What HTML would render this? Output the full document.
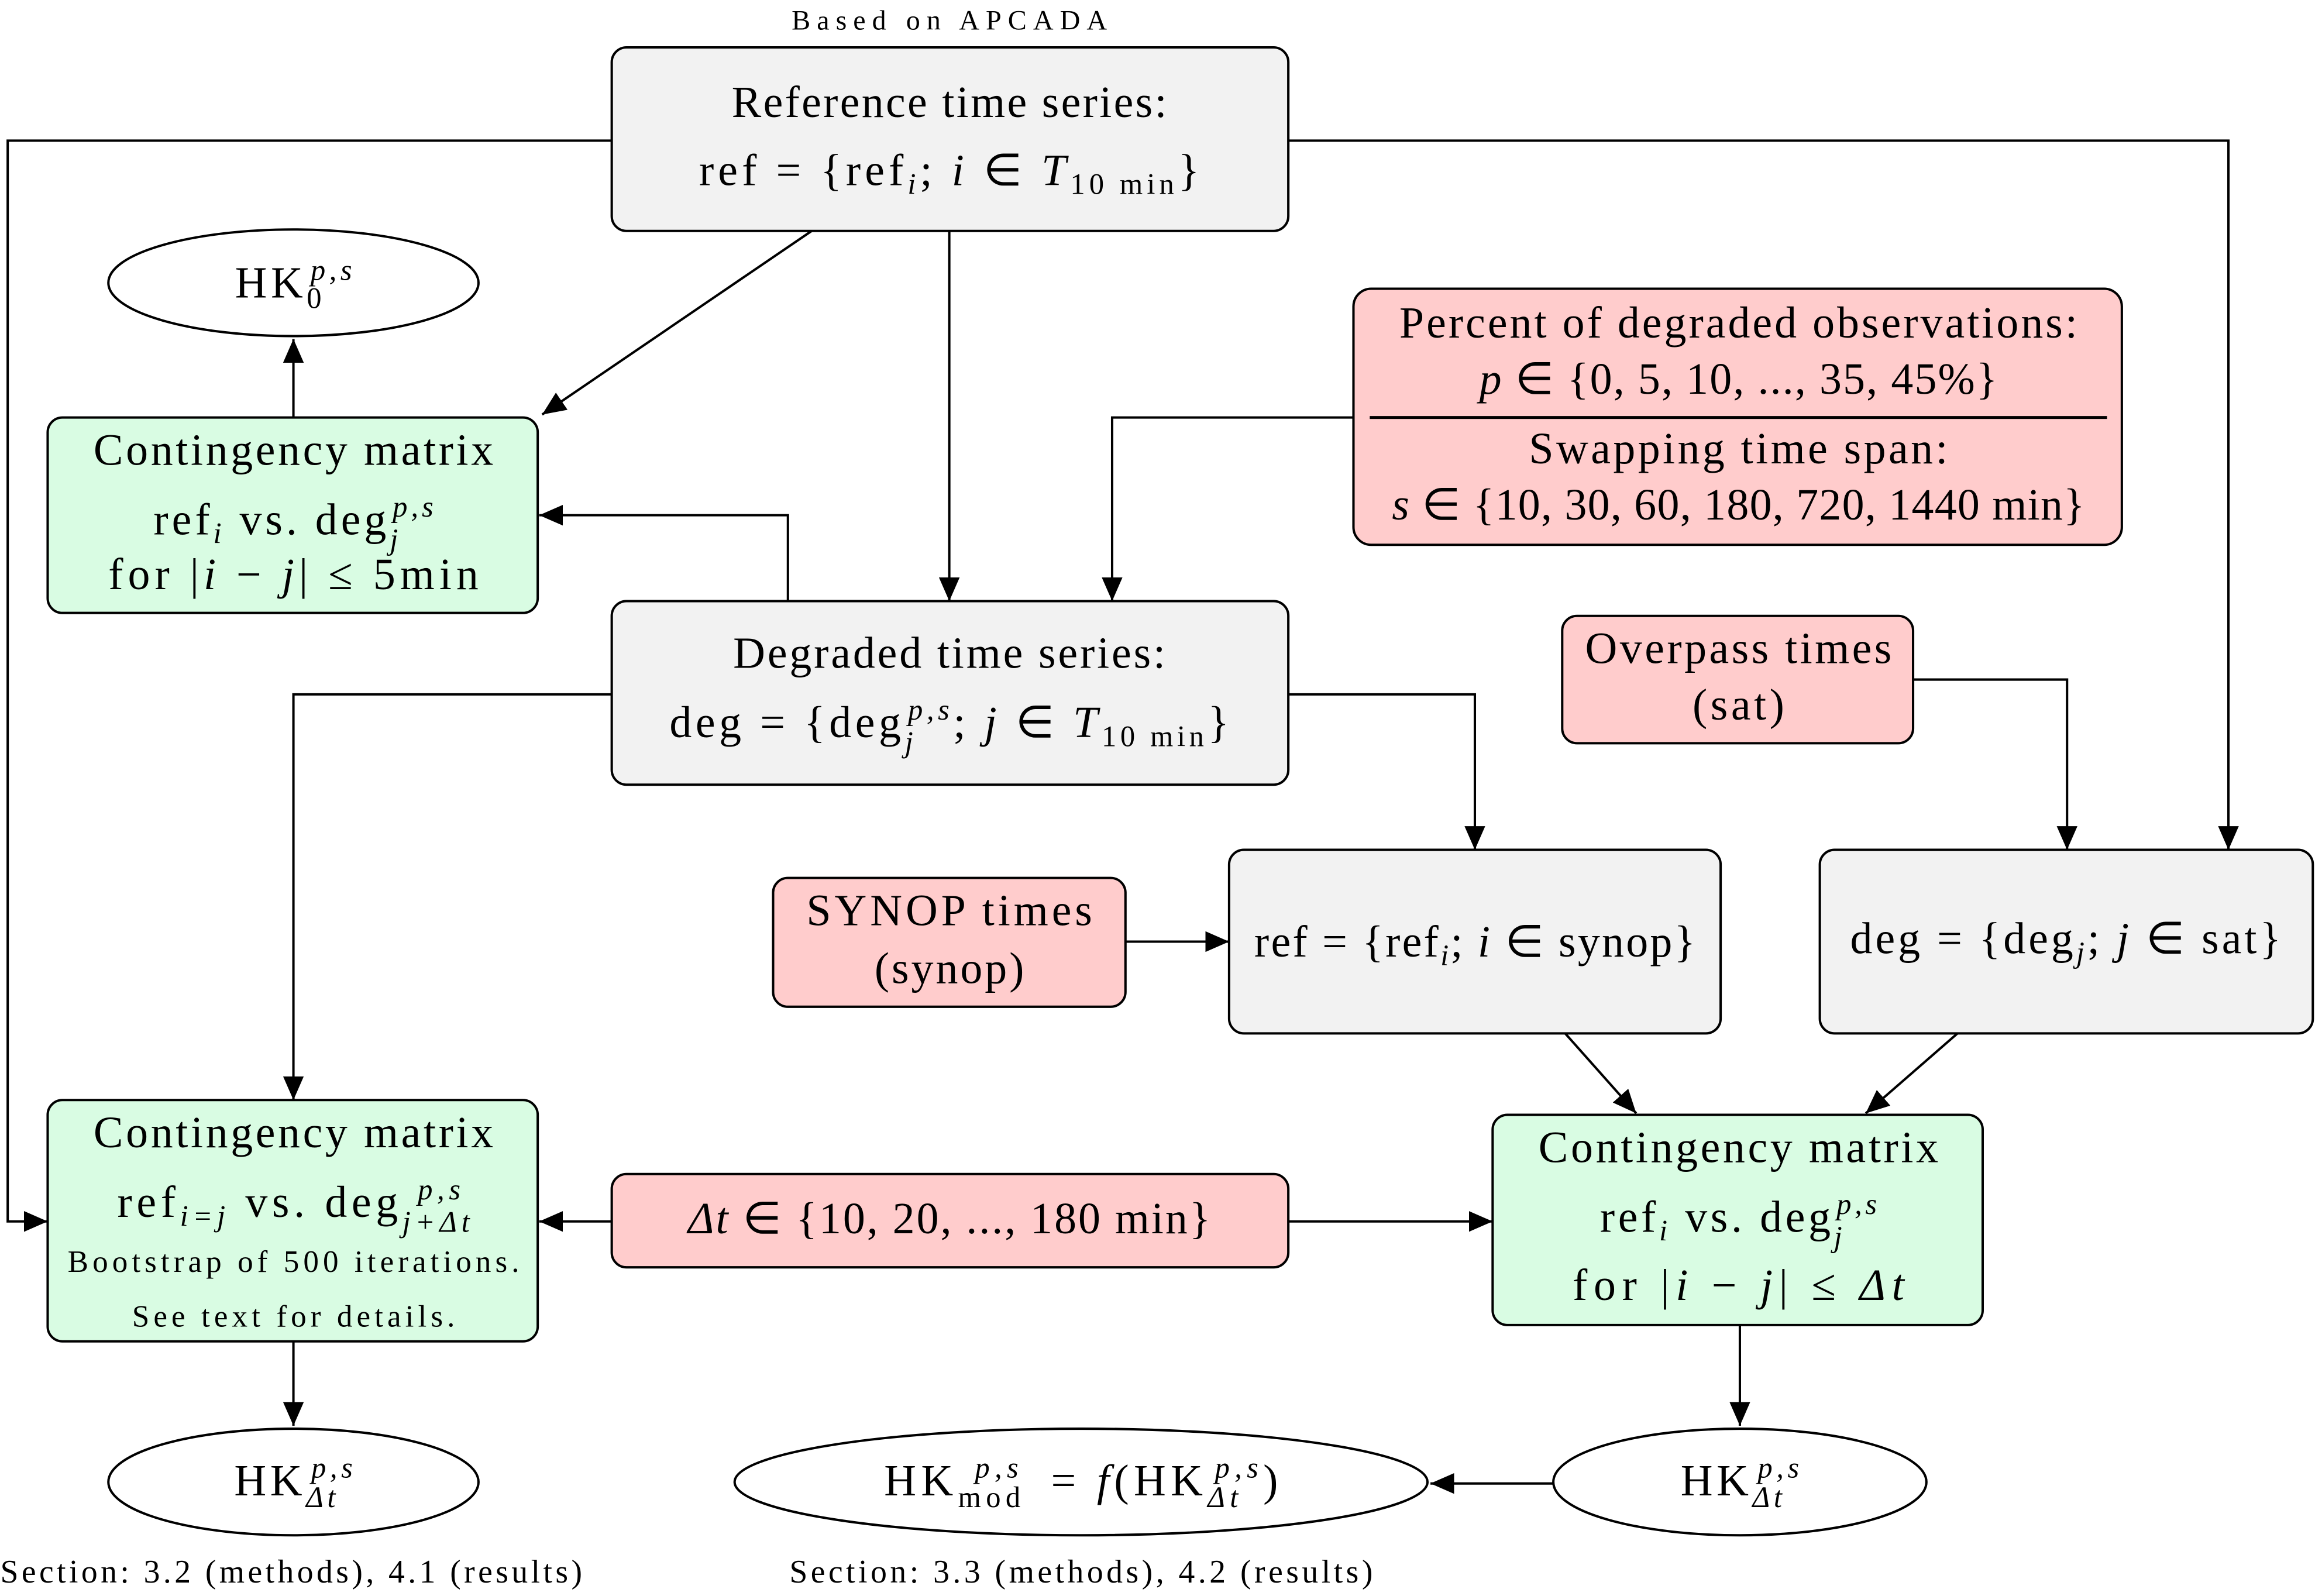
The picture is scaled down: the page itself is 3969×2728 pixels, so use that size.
<!DOCTYPE html>
<html><head><meta charset="utf-8"><style>
html,body{margin:0;padding:0;background:#fff;}
svg{display:block;}
text{font-family:"Liberation Serif",serif;fill:#000;}
</style></head><body>
<svg width="3969" height="2728" viewBox="0 0 1568 1078" xmlns="http://www.w3.org/2000/svg">
<defs><marker id="a" markerWidth="16" markerHeight="14" refX="16" refY="7" orient="auto" markerUnits="userSpaceOnUse"><path d="M0,0 L16,7 L0,14 z" fill="#000"/></marker></defs>
<g fill="none" stroke="#000" stroke-width="1.6">
<path d="M413,95 H5 V825 H32" marker-end="url(#a)"/>
<path d="M870,95 H1505 V574" marker-end="url(#a)"/>
<path d="M548,156 L366,280" marker-end="url(#a)"/>
<path d="M641,156 V406" marker-end="url(#a)"/>
<path d="M198,282 V229" marker-end="url(#a)"/>
<path d="M914,282 H751 V406" marker-end="url(#a)"/>
<path d="M532,406 V348 H364" marker-end="url(#a)"/>
<path d="M413,469 H198 V743" marker-end="url(#a)"/>
<path d="M870,469 H996 V574" marker-end="url(#a)"/>
<path d="M1292,459 H1396 V574" marker-end="url(#a)"/>
<path d="M760,636 H830" marker-end="url(#a)"/>
<path d="M1057,698 L1105,752" marker-end="url(#a)"/>
<path d="M1322,698 L1260,752" marker-end="url(#a)"/>
<path d="M413,825 H364" marker-end="url(#a)"/>
<path d="M870,825 H1008" marker-end="url(#a)"/>
<path d="M198,906 V963" marker-end="url(#a)"/>
<path d="M1175,895 V963" marker-end="url(#a)"/>
<path d="M1049,1002 H966" marker-end="url(#a)"/>
</g>
<g stroke="#000" stroke-width="1.6">
<rect x="413" y="32" width="457" height="124" rx="10" fill="#f2f2f2"/>
<rect x="32" y="282" width="331" height="132" rx="10" fill="#d9fce3"/>
<rect x="914" y="195" width="519" height="173" rx="12" fill="#ffcccc"/>
<line x1="925" y1="282" x2="1423" y2="282" stroke-width="2"/>
<rect x="413" y="406" width="457" height="124" rx="10" fill="#f2f2f2"/>
<rect x="1055" y="416" width="237" height="86" rx="10" fill="#ffcccc"/>
<rect x="522" y="593" width="238" height="87" rx="10" fill="#ffcccc"/>
<rect x="830" y="574" width="332" height="124" rx="10" fill="#f2f2f2"/>
<rect x="1229" y="574" width="333" height="124" rx="10" fill="#f2f2f2"/>
<rect x="32" y="743" width="331" height="163" rx="10" fill="#d9fce3"/>
<rect x="413" y="793" width="457" height="63" rx="10" fill="#ffcccc"/>
<rect x="1008" y="753" width="331" height="142" rx="10" fill="#d9fce3"/>
<ellipse cx="198" cy="191" rx="125" ry="36" fill="#fff"/>
<ellipse cx="198" cy="1001" rx="125" ry="36" fill="#fff"/>
<ellipse cx="730" cy="1001" rx="234" ry="36" fill="#fff"/>
<ellipse cx="1175" cy="1001" rx="126" ry="36" fill="#fff"/>
</g>
<g text-anchor="middle" font-size="30">
<text x="641" y="20" font-size="19" textLength="213">Based on APCADA</text>
<text x="641" y="79" textLength="294">Reference time series:</text>
<text x="641" y="125" textLength="338">ref = {ref<tspan font-size="20" dy="6" font-style="italic">i</tspan><tspan dy="-6">; </tspan><tspan font-style="italic">i</tspan> ∈ <tspan font-style="italic">T</tspan><tspan font-size="20" dy="6">10 min</tspan><tspan dy="-6">}</tspan></text>
<text x="198" y="201" textLength="79">HK<tspan font-size="20" dy="7">0</tspan><tspan font-size="20" dy="-19" dx="-10" font-style="italic">p,s</tspan></text>
<text x="198" y="314" textLength="270">Contingency matrix</text>
<text x="198" y="361" textLength="189">ref<tspan font-size="20" dy="6" font-style="italic">i</tspan><tspan dy="-6"> vs. deg</tspan><tspan font-size="20" dy="10" font-style="italic">j</tspan><tspan font-size="20" dy="-22" dx="-6" font-style="italic">p,s</tspan></text>
<text x="198" y="398" textLength="250">for |<tspan font-style="italic">i</tspan> − <tspan font-style="italic">j</tspan>| ≤ 5min</text>
<text x="1174" y="228" textLength="458">Percent of degraded observations:</text>
<text x="1174" y="266" textLength="350"><tspan font-style="italic">p</tspan> ∈ {0, 5, 10, ..., 35, 45%}</text>
<text x="1174" y="313" textLength="283">Swapping time span:</text>
<text x="1174" y="351" textLength="468"><tspan font-style="italic">s</tspan> ∈ {10, 30, 60, 180, 720, 1440 min}</text>
<text x="641" y="451" textLength="292">Degraded time series:</text>
<text x="641" y="498" textLength="378">deg = {deg<tspan font-size="20" dy="10" font-style="italic">j</tspan><tspan font-size="20" dy="-22" dx="-6" font-style="italic">p,s</tspan><tspan dy="12">; </tspan><tspan font-style="italic">j</tspan> ∈ <tspan font-style="italic">T</tspan><tspan font-size="20" dy="6">10 min</tspan><tspan dy="-6">}</tspan></text>
<text x="1174" y="448" textLength="207">Overpass times</text>
<text x="1174" y="486" textLength="62">(sat)</text>
<text x="641" y="625" textLength="193">SYNOP times</text>
<text x="641" y="664" textLength="101">(synop)</text>
<text x="996" y="646" textLength="298">ref = {ref<tspan font-size="20" dy="6" font-style="italic">i</tspan><tspan dy="-6">; </tspan><tspan font-style="italic">i</tspan> ∈ synop}</text>
<text x="1395" y="644" textLength="291">deg = {deg<tspan font-size="20" dy="6" font-style="italic">j</tspan><tspan dy="-6">; </tspan><tspan font-style="italic">j</tspan> ∈ sat}</text>
<text x="198" y="775" textLength="270">Contingency matrix</text>
<text x="198" y="822" textLength="247">ref<tspan font-size="20" dy="6" font-style="italic">i=j</tspan><tspan dy="-6"> vs. deg</tspan><tspan font-size="20" dy="10" font-style="italic">j+Δt</tspan><tspan font-size="20" dy="-22" dx="-38" font-style="italic">p,s</tspan></text>
<text x="198" y="859" font-size="21" textLength="305">Bootstrap of 500 iterations.</text>
<text x="198" y="896" font-size="21" textLength="218">See text for details.</text>
<text x="641" y="833" textLength="353"><tspan font-style="italic">Δt</tspan> ∈ {10, 20, ..., 180 min}</text>
<text x="1174" y="785" textLength="270">Contingency matrix</text>
<text x="1174" y="832" textLength="187">ref<tspan font-size="20" dy="6" font-style="italic">i</tspan><tspan dy="-6"> vs. deg</tspan><tspan font-size="20" dy="10" font-style="italic">j</tspan><tspan font-size="20" dy="-22" dx="-6" font-style="italic">p,s</tspan></text>
<text x="1174" y="878" textLength="224">for |<tspan font-style="italic">i</tspan> − <tspan font-style="italic">j</tspan>| ≤ <tspan font-style="italic">Δt</tspan></text>
<text x="198" y="1010" textLength="80">HK<tspan font-size="20" dy="8" font-style="italic">Δt</tspan><tspan font-size="20" dy="-20" dx="-19" font-style="italic">p,s</tspan></text>
<text x="730" y="1010" textLength="266">HK<tspan font-size="20" dy="8">mod</tspan><tspan font-size="20" dy="-20" dx="-34" font-style="italic">p,s</tspan><tspan dy="12" dx="8"> = </tspan><tspan font-style="italic">f</tspan>(HK<tspan font-size="20" dy="8" font-style="italic">Δt</tspan><tspan font-size="20" dy="-20" dx="-19" font-style="italic">p,s</tspan><tspan dy="12">)</tspan></text>
<text x="1175" y="1010" textLength="80">HK<tspan font-size="20" dy="8" font-style="italic">Δt</tspan><tspan font-size="20" dy="-20" dx="-19" font-style="italic">p,s</tspan></text>
</g>
<text x="0" y="1069" font-size="22" textLength="393">Section: 3.2 (methods), 4.1 (results)</text>
<text x="533" y="1069" font-size="22" textLength="394">Section: 3.3 (methods), 4.2 (results)</text>
</svg>
</body></html>
